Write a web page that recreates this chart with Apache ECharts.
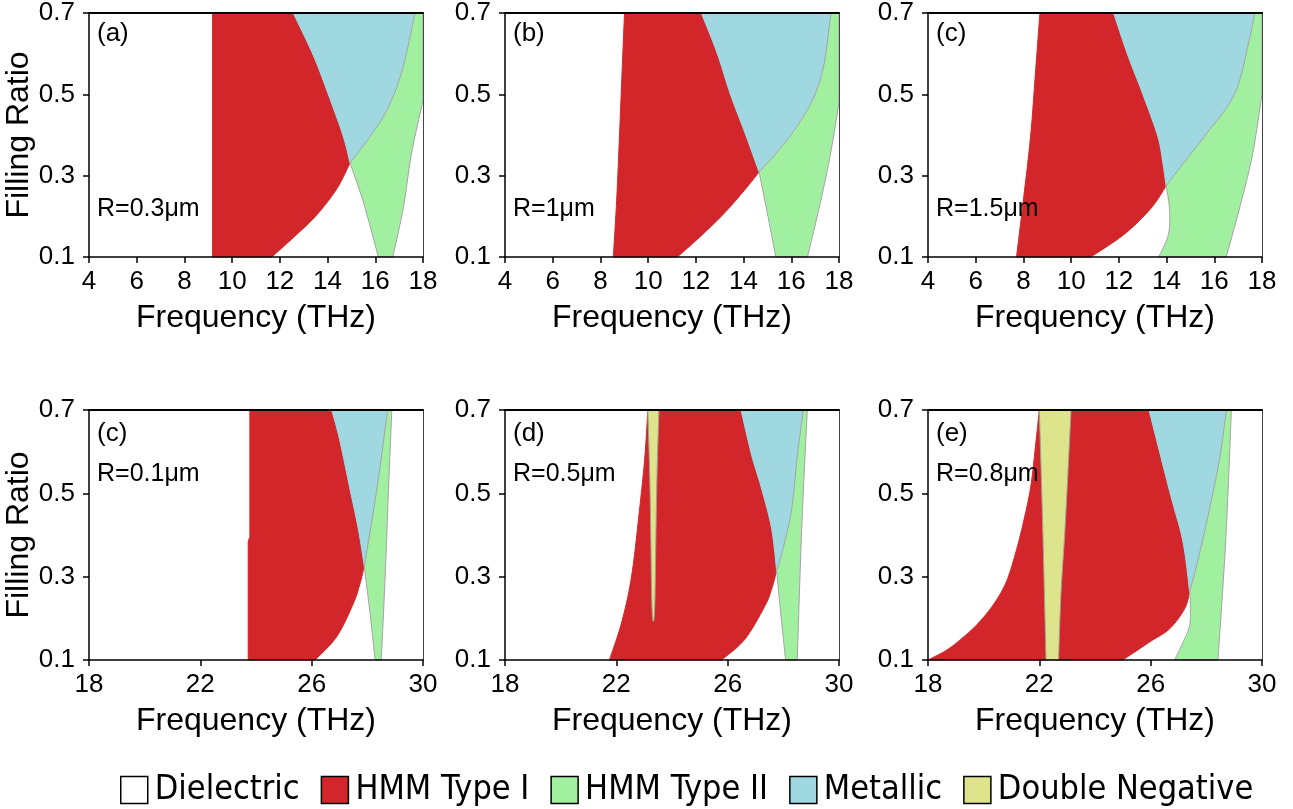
<!DOCTYPE html>
<html><head><meta charset="utf-8">
<script src="https://cdn.jsdelivr.net/npm/echarts@6/dist/echarts.min.js"></script>
<style>html,body{margin:0;padding:0;background:#fff}#c{width:1293px;height:809px}</style>
</head><body><div id="c"></div>
<script>
// ---- axis data ----
const xRangeTop = [4, 18];
const xRangeBottom = [18, 30];
const yRange = [0.1, 0.7];
const xTicksBottom = [18, 22, 26, 30];
const yTicks = [0.1, 0.3, 0.5, 0.7];
const panelTags = ['(a)', '(b)', '(c)', '(c)', '(d)', '(e)'];
const radii = ['R=0.3μm', 'R=1μm', 'R=1.5μm', 'R=0.1μm', 'R=0.5μm', 'R=0.8μm'];
const legendNames = ['Dielectric', 'HMM Type I', 'HMM Type II', 'Metallic', 'Double Negative'];

// ---- region boundary curves [frequency THz, filling ratio] ----
// panel (a) R=0.3um
const a_redLeft = [[9.18,0.1],[9.18,0.7]];
const a_redMetal = [[12.56,0.7],[13.40,0.596],[14.03,0.5],[14.66,0.396],[14.94,0.331]];
const a_redLow = [[14.94,0.331],[14.38,0.267],[13.54,0.203],[12.70,0.155],[11.66,0.1]];
const a_metalGreen = [[14.94,0.331],[15.78,0.396],[16.48,0.46],[17.03,0.54],[17.38,0.62],[17.66,0.7]];
const a_greenRight = [[18,0.484],[17.52,0.355],[17.17,0.219],[16.73,0.1]];
const a_greenLeft = [[16.13,0.1],[15.5,0.235],[14.94,0.331]];
// panel (b) R=1um
const b_redLeft = [[8.54,0.1],[8.68,0.239],[8.80,0.4],[8.91,0.56],[9.01,0.7]];
const b_redMetal = [[12.23,0.7],[12.90,0.6],[13.46,0.498],[14.09,0.4],[14.65,0.309]];
const b_redLow = [[14.65,0.309],[14.02,0.263],[13.18,0.207],[12.2,0.151],[11.22,0.1]];
const b_metalGreen = [[14.65,0.309],[15.42,0.359],[16.26,0.423],[16.96,0.495],[17.38,0.576],[17.66,0.7]];
const b_greenRight = [[18,0.479],[17.66,0.359],[17.24,0.239],[16.68,0.1]];
const b_greenLeft = [[15.35,0.1],[15.0,0.207],[14.65,0.309]];
// panel (c) R=1.5um
const c_redLeft = [[7.71,0.1],[7.99,0.236],[8.30,0.397],[8.5,0.55],[8.69,0.7]];
const c_redMetal = [[11.78,0.7],[12.37,0.597],[13.0,0.501],[13.63,0.397],[13.84,0.333],[13.98,0.275]];
const c_redLow = [[13.98,0.275],[13.35,0.22],[12.23,0.156],[10.82,0.1]];
const c_metalGreen = [[13.98,0.275],[14.7,0.33],[15.59,0.397],[16.85,0.501],[17.48,0.637],[17.69,0.7]];
const c_greenRight = [[18,0.501],[17.62,0.357],[17.13,0.236],[16.5,0.1]];
const c_greenLeft = [[13.67,0.1],[14.08,0.156],[14.12,0.22],[13.98,0.275]];
// panel (c) R=0.1um (bottom row)
const c2_redLeftLow = [[23.72,0.1],[23.72,0.385]];
const c2_redLeftHigh = [[23.78,0.395],[23.78,0.7]];
const c2_redMetal = [[26.72,0.7],[27.0,0.63],[27.38,0.509],[27.68,0.413],[27.89,0.325]];
const c2_redLow = [[27.89,0.325],[27.74,0.284],[27.5,0.236],[26.9,0.156],[26.12,0.1]];
const c2_metalGreen = [[27.89,0.325],[28.34,0.509],[28.73,0.7]];
const c2_greenRight = [[28.88,0.7],[28.76,0.509],[28.64,0.3],[28.5,0.1]];
const c2_greenLeft = [[28.28,0.1],[28.1,0.21],[27.89,0.325]];
// panel (d) R=0.5um
const d_redLeft = [[21.75,0.1],[22.19,0.19],[22.55,0.302],[22.85,0.471],[23.03,0.592],[23.13,0.7]];
const d_redMetal = [[26.48,0.7],[26.86,0.592],[27.22,0.511],[27.58,0.415],[27.76,0.314]];
const d_redLow = [[27.76,0.314],[27.58,0.27],[27.34,0.23],[26.62,0.15],[25.78,0.1]];
const d_metalGreen = [[27.76,0.314],[28.0,0.37],[28.3,0.463],[28.52,0.6],[28.72,0.7]];
const d_greenRight = [[28.86,0.7],[28.66,0.415],[28.5,0.1]];
const d_greenLeft = [[28.08,0.1],[27.88,0.23],[27.76,0.314]];
const d_dnegLeft = [[23.13,0.7],[23.21,0.511],[23.27,0.254],[23.31,0.194]];
const d_dnegRight = [[23.35,0.194],[23.39,0.254],[23.45,0.511],[23.53,0.7]];
// panel (e) R=0.8um
const e_redLeft = [[18,0.1],[18.65,0.123],[19.13,0.147],[19.73,0.183],[20.33,0.231],[20.81,0.287],[21.16,0.36],[21.46,0.44],[21.70,0.52],[21.88,0.625],[22.0,0.7]];
const e_dnegLeft = [[22.0,0.7],[22.12,0.424],[22.24,0.1]];
const e_dnegRight = [[22.69,0.1],[22.78,0.263],[22.93,0.424],[23.14,0.7]];
const e_redMetal = [[25.94,0.7],[26.68,0.505],[27.16,0.384],[27.4,0.263]];
const e_redLow = [[27.4,0.263],[27.22,0.223],[26.68,0.175],[25.96,0.143],[25.0,0.1]];
const e_metalGreen = [[27.4,0.263],[27.7,0.34],[28.12,0.464],[28.48,0.585],[28.72,0.7]];
const e_greenRight = [[28.9,0.7],[28.78,0.505],[28.66,0.344],[28.42,0.1]];
const e_greenLeft = [[26.86,0.1],[27.22,0.151],[27.4,0.183],[27.43,0.223],[27.4,0.263]];

// ---- styling ----
const colors = {'Dielectric':'#ffffff','HMM Type I':'#d3262a','HMM Type II':'#a0f0a0','Metallic':'#a0d8e2','Double Negative':'#dde48c'};
const strokes = {'Dielectric':'#ffffff','HMM Type I':'#d3262a','HMM Type II':'#a8a0a8','Metallic':'#a0d8e2','Double Negative':'#a0a090'};

const rev = a => a.slice().reverse();
// each region: [panel, type, list of boundary pieces traversed in order]
const regions = [
  [0,'HMM Type I',[a_redLeft, a_redMetal, a_redLow]],
  [0,'Metallic',[rev(a_redMetal), rev(a_metalGreen)]],
  [0,'HMM Type II',[a_metalGreen, [[18,0.7]], a_greenRight, a_greenLeft]],
  [1,'HMM Type I',[b_redLeft, b_redMetal, b_redLow]],
  [1,'Metallic',[rev(b_redMetal), rev(b_metalGreen)]],
  [1,'HMM Type II',[b_metalGreen, [[18,0.7]], b_greenRight, b_greenLeft]],
  [2,'HMM Type I',[c_redLeft, c_redMetal, c_redLow]],
  [2,'Metallic',[rev(c_redMetal), rev(c_metalGreen)]],
  [2,'HMM Type II',[c_metalGreen, [[18,0.7]], c_greenRight, c_greenLeft]],
  [3,'HMM Type I',[c2_redLeftLow, c2_redLeftHigh, c2_redMetal, c2_redLow]],
  [3,'Metallic',[rev(c2_redMetal), rev(c2_metalGreen)]],
  [3,'HMM Type II',[c2_metalGreen, c2_greenRight, c2_greenLeft]],
  [4,'HMM Type I',[d_redLeft, d_redMetal, d_redLow]],
  [4,'Metallic',[rev(d_redMetal), rev(d_metalGreen)]],
  [4,'HMM Type II',[d_metalGreen, d_greenRight, d_greenLeft]],
  [4,'Double Negative',[d_dnegLeft, d_dnegRight]],
  [5,'HMM Type I',[e_redLeft, e_dnegLeft]],
  [5,'HMM Type I',[e_dnegRight, e_redMetal, e_redLow]],
  [5,'Metallic',[rev(e_redMetal), rev(e_metalGreen)]],
  [5,'HMM Type II',[e_metalGreen, e_greenRight, e_greenLeft]],
  [5,'Double Negative',[[[22.0,0.7]], rev(e_dnegRight), rev(e_dnegLeft)]]
];

// smooth drawing of a boundary piece through its points (pixel space)
function smoothPixels(pix) {
  if (pix.length < 3) return pix.slice();
  const out = [pix[0]];
  const n = pix.length;
  for (let i = 0; i < n - 1; i++) {
    const p0 = pix[Math.max(i - 1, 0)], p1 = pix[i], p2 = pix[i + 1], p3 = pix[Math.min(i + 2, n - 1)];
    const c1 = [p1[0] + (p2[0] - p0[0]) / 6, p1[1] + (p2[1] - p0[1]) / 6];
    const c2 = [p2[0] - (p3[0] - p1[0]) / 6, p2[1] - (p3[1] - p1[1]) / 6];
    const steps = 14;
    for (let s = 1; s <= steps; s++) {
      const t = s / steps, u = 1 - t;
      out.push([
        u*u*u*p1[0] + 3*u*u*t*c1[0] + 3*u*t*t*c2[0] + t*t*t*p2[0],
        u*u*u*p1[1] + 3*u*u*t*c1[1] + 3*u*t*t*c2[1] + t*t*t*p2[1]
      ]);
    }
  }
  return out;
}

const gridLefts = [89, 505, 928, 89, 505, 928];
const gridTops = [7, 7, 7, 410, 410, 410];
const FONT = "'Liberation Sans', Arial, sans-serif";

const grids = [], xAxes = [], yAxes = [], series = [], titles = [];
for (let i = 0; i < 6; i++) {
  const top = i < 3;
  const xr = top ? xRangeTop : xRangeBottom;
  grids.push({left: gridLefts[i], top: gridTops[i], width: 334, height: 250, containLabel: false});
  const xa = {
    gridIndex: i, type: 'value', min: xr[0], max: xr[1], z: 10,
    name: 'Frequency (THz)', nameLocation: 'middle', nameGap: 45,
    nameTextStyle: {fontSize: 32, color: '#000', fontFamily: FONT},
    axisLine: {show: true, onZero: false, lineStyle: {color: '#000', width: 1.5}},
    axisTick: {show: true, length: 6, lineStyle: {color: '#000', width: 1.5}},
    axisLabel: {fontSize: 26, color: '#000', margin: 12, fontFamily: FONT, showMinLabel: true, showMaxLabel: true},
    splitLine: {show: false}
  };
  if (top) { xa.interval = 2; }
  else { xa.axisTick.customValues = xTicksBottom; xa.axisLabel.customValues = xTicksBottom; }
  xAxes.push(xa);
  const ya = {
    gridIndex: i, type: 'value', min: yRange[0], max: yRange[1], z: 10,
    axisLine: {show: true, onZero: false, lineStyle: {color: '#000', width: 1.5}},
    axisTick: {show: true, length: 6, customValues: yTicks, lineStyle: {color: '#000', width: 1.5}},
    axisLabel: {fontSize: 26, color: '#000', margin: 14, fontFamily: FONT, customValues: yTicks},
    splitLine: {show: false}
  };
  if (i === 0 || i === 3) {
    ya.name = 'Filling Ratio'; ya.nameLocation = 'middle'; ya.nameGap = 51;
    ya.nameTextStyle = {fontSize: 32, color: '#000', fontFamily: FONT};
  }
  yAxes.push(ya);
  // dielectric background (whole plot area)
  const bg = [[xr[0], yRange[0]], [xr[1], yRange[0]], [xr[1], yRange[1]], [xr[0], yRange[1]]];
  regions.unshift([i, 'Dielectric', [bg]]);
  titles.push({text: panelTags[i], left: gridLefts[i] + 8, top: top ? 21 : 421, padding: 0,
    textStyle: {fontSize: 26, fontWeight: 'normal', color: '#000', fontFamily: FONT}});
  titles.push({text: radii[i], left: gridLefts[i] + 8, top: top ? 197 : 462, padding: 0,
    textStyle: {fontSize: 25, fontWeight: 'normal', color: '#000', fontFamily: FONT}});
}
// frame axes (top and right edges)
for (let i = 0; i < 6; i++) {
  xAxes.push({gridIndex: i, type: 'value', position: 'top', min: 0, max: 1, z: 10,
    axisLine: {show: true, onZero: false, lineStyle: {color: '#000', width: 2}},
    axisTick: {show: false}, axisLabel: {show: false}, splitLine: {show: false}});
  yAxes.push({gridIndex: i, type: 'value', position: 'right', min: 0, max: 1, z: 10,
    axisLine: {show: true, onZero: false, lineStyle: {color: '#444', width: 1}},
    axisTick: {show: false}, axisLabel: {show: false}, splitLine: {show: false}});
}

regions.forEach(([p, name, pieces]) => {
  const fill = colors[name], stroke = strokes[name];
  series.push({
    type: 'custom', name: name, xAxisIndex: p, yAxisIndex: p, silent: true, animation: false,
    itemStyle: {color: fill},
    data: [pieces[0][0]],
    renderItem: function (params, api) {
      let pts = [];
      pieces.forEach(piece => {
        const pix = smoothPixels(piece.map(pt => api.coord(pt)));
        pix.forEach(q => {
          const last = pts[pts.length - 1];
          if (!last || Math.abs(last[0] - q[0]) > 0.01 || Math.abs(last[1] - q[1]) > 0.01) pts.push(q);
        });
      });
      return {type: 'polygon', shape: {points: pts},
        style: {fill: fill, stroke: stroke, lineWidth: name === 'Dielectric' ? 0 : 1}};
    }
  });
});

const chart = echarts.init(document.getElementById('c'), null, {renderer: 'canvas'});
chart.setOption({
  backgroundColor: '#fff',
  animation: false,
  title: titles,
  grid: grids,
  xAxis: xAxes,
  yAxis: yAxes,
  legend: {
    data: legendNames, left: 120, top: 773, orient: 'horizontal', selectedMode: false,
    itemWidth: 27, itemHeight: 27, itemGap: 21, padding: 0,
    icon: 'rect',
    itemStyle: {borderColor: '#000', borderWidth: 1.5},
    textStyle: {fontSize: 34, color: '#000', fontFamily: "'DejaVu Sans Condensed', 'DejaVu Sans', sans-serif", padding: [0, 0, 0, 2]}
  },
  series: series
});
</script></body></html>
